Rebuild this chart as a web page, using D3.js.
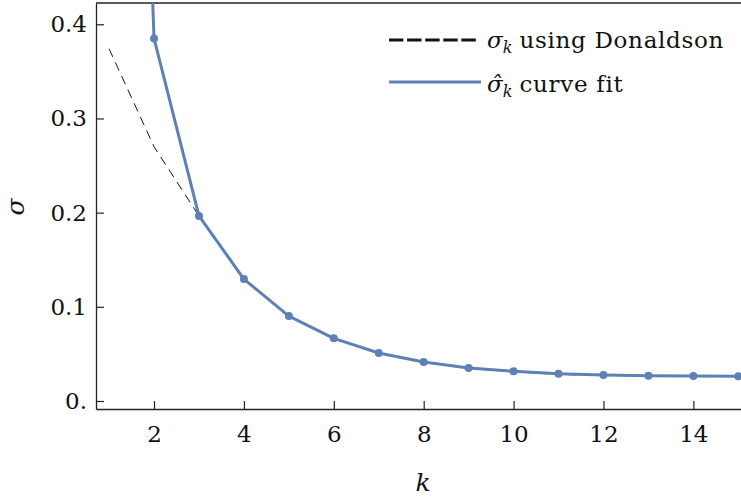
<!DOCTYPE html>
<html>
<head>
<meta charset="utf-8">
<script src="https://cdn.jsdelivr.net/npm/d3@7"></script>
<style>
  body { margin: 0; background: #fff; }
  text { font-family: "DejaVu Serif", serif; fill: #111; }
</style>
</head>
<body>
<div id="chart"></div>
<script>
// data
var k_values = [1, 2, 3, 4, 5, 6, 7, 8, 9, 10, 11, 12, 13, 14, 15];
var fit_values = [1.7, 0.385, 0.1965, 0.1295, 0.0902, 0.0665, 0.051, 0.0414, 0.035, 0.0315, 0.0288, 0.0276, 0.0269, 0.0265, 0.0262];
var donaldson_values = [0.374, 0.27, 0.1965, 0.1295, 0.0902, 0.0665, 0.051, 0.0412, 0.0347, 0.031, 0.0281, 0.0272, 0.0267, 0.0264, 0.0262];
var x_ticks = [2, 4, 6, 8, 10, 12, 14];
var y_ticks = [0, 0.1, 0.2, 0.3, 0.4];

var chart_width = 741;
var chart_height = 497;
var plot_left = 96, plot_right = 741, plot_top = 3, plot_bottom = 409;
var blue = '#5e81b5';
var axis_color = '#222';
var serif = '"DejaVu Serif", serif';

var svg = d3.select('#chart')
    .append('svg')
    .attr('width', chart_width)
    .attr('height', chart_height);

// Scales
var x_scale = d3.scaleLinear()
    .domain([0.709, 15.06])
    .range([plot_left, plot_right]);

var y_scale = d3.scaleLinear()
    .domain([-0.0085, 0.4226])
    .range([plot_bottom, plot_top]);

svg.append('clipPath')
    .attr('id', 'plot-clip')
    .append('rect')
    .attr('x', plot_left)
    .attr('y', plot_top)
    .attr('width', plot_right - plot_left)
    .attr('height', plot_bottom - plot_top);

// Axes
var x_axis = d3.axisBottom(x_scale)
    .tickValues(x_ticks)
    .tickSizeInner(-8)
    .tickSizeOuter(0)
    .tickPadding(17)
    .tickFormat(d3.format('d'));

var y_axis = d3.axisLeft(y_scale)
    .tickValues(y_ticks)
    .tickSizeInner(-8)
    .tickSizeOuter(0)
    .tickPadding(9)
    .tickFormat(function(d) {
        return d === 0 ? '0.' : d3.format('.1f')(d);
    });

var gx = svg.append('g')
    .attr('transform', 'translate(0,' + plot_bottom + ')')
    .call(x_axis);

var gy = svg.append('g')
    .attr('transform', 'translate(' + plot_left + ',0)')
    .call(y_axis);

[gx, gy].forEach(function(g) {
    g.attr('font-family', serif);
    g.select('.domain').attr('stroke', axis_color).attr('stroke-width', 1.3);
    g.selectAll('.tick line').attr('stroke', axis_color).attr('stroke-width', 1.2);
    g.selectAll('.tick text')
        .attr('font-size', 23)
        .attr('fill', '#111');
});

// frame on top
svg.append('line')
    .attr('x1', plot_left).attr('x2', plot_right)
    .attr('y1', plot_top).attr('y2', plot_top)
    .attr('stroke', axis_color)
    .attr('stroke-width', 1.3);

// Lines
var line = d3.line()
    .x(function(d, i) { return x_scale(k_values[i]); })
    .y(function(d) { return y_scale(d); });

var plot = svg.append('g').attr('clip-path', 'url(#plot-clip)');

plot.append('path')
    .datum(donaldson_values)
    .attr('d', line)
    .attr('fill', 'none')
    .attr('stroke', '#111')
    .attr('stroke-width', 1)
    .attr('stroke-dasharray', '9,6');

plot.append('path')
    .datum(fit_values)
    .attr('d', line)
    .attr('fill', 'none')
    .attr('stroke', blue)
    .attr('stroke-width', 3)
    .attr('stroke-linejoin', 'round');

plot.selectAll('circle')
    .data(fit_values.slice(1))
    .enter()
    .append('circle')
    .attr('cx', function(d, i) { return x_scale(k_values[i + 1]); })
    .attr('cy', function(d) { return y_scale(d); })
    .attr('r', 4)
    .attr('fill', blue);

// Axis labels
svg.append('text')
    .attr('x', 423)
    .attr('y', 491)
    .attr('text-anchor', 'middle')
    .attr('font-size', 25)
    .attr('font-style', 'italic')
    .text('k');

svg.append('text')
    .attr('transform', 'translate(24,207) rotate(-90)')
    .attr('text-anchor', 'middle')
    .attr('font-size', 25)
    .attr('font-style', 'italic')
    .text('σ');

// Legend
var legend = svg.append('g');

legend.append('line')
    .attr('x1', 389).attr('x2', 476)
    .attr('y1', 40).attr('y2', 40)
    .attr('stroke', '#111')
    .attr('stroke-width', 3)
    .attr('stroke-dasharray', '14.4,3.7');

legend.append('line')
    .attr('x1', 389).attr('x2', 481)
    .attr('y1', 82).attr('y2', 82)
    .attr('stroke', blue)
    .attr('stroke-width', 3);

var t1 = legend.append('text')
    .attr('x', 487)
    .attr('y', 48)
    .attr('font-size', 23);
t1.append('tspan').attr('font-style', 'italic').text('σ');
t1.append('tspan').attr('font-style', 'italic').attr('font-size', 16).attr('dy', 5).text('k');
t1.append('tspan').attr('dy', -5).attr('dx', 7).attr('letter-spacing', 0.7).text('using Donaldson');

var t2 = legend.append('text')
    .attr('x', 487)
    .attr('y', 92)
    .attr('font-size', 23);
t2.append('tspan').attr('font-style', 'italic').text('σ\u0302');
t2.append('tspan').attr('font-style', 'italic').attr('font-size', 16).attr('dy', 5).text('k');
t2.append('tspan').attr('dy', -5).attr('dx', 7).attr('letter-spacing', 0.7).text('curve fit');
</script>
</body>
</html>
